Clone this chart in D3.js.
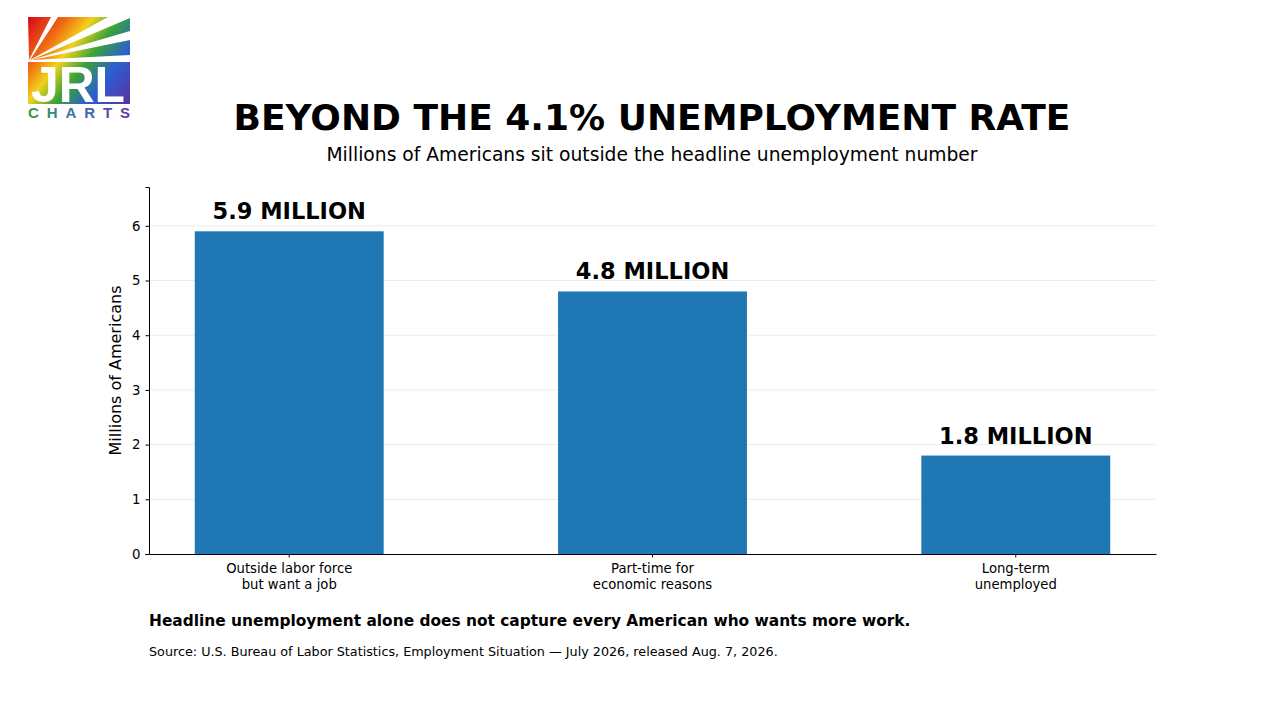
<!DOCTYPE html>
<html>
<head>
<meta charset="utf-8">
<script src="https://cdn.jsdelivr.net/npm/d3@7"></script>
<style>
  body { margin: 0; background: #fff; }
  svg { display: block; font-family: "DejaVu Sans", sans-serif; }
</style>
</head>
<body>
<svg id="chart"></svg>
<script>
// chart data
const categories = ["Outside labor force|but want a job", "Part-time for|economic reasons", "Long-term|unemployed"];
const values = [5.9, 4.8, 1.8];
const valueLabels = ["5.9 MILLION", "4.8 MILLION", "1.8 MILLION"];
const yTicks = [0, 1, 2, 3, 4, 5, 6];

const width = 1280, height = 720,
      margin = {top: 187, right: 124, bottom: 166, left: 149};

const svg = d3.select("#chart")
    .attr("width", width)
    .attr("height", height);

// logo (drawn, not an image)
const defs = svg.append("defs");
const grad = defs.append("linearGradient")
    .attr("id", "rainbow")
    .attr("gradientUnits", "userSpaceOnUse")
    .attr("x1", 28).attr("y1", 22).attr("x2", 130).attr("y2", 100);
[["0", "#d8101a"], ["0.22", "#f06a12"], ["0.38", "#f2d21c"], ["0.55", "#3aa436"],
 ["0.75", "#2a5fd0"], ["1", "#5a34a6"]].forEach(s =>
    grad.append("stop").attr("offset", s[0]).attr("stop-color", s[1]));
const grad2 = defs.append("linearGradient")
    .attr("id", "charts")
    .attr("gradientUnits", "userSpaceOnUse")
    .attr("x1", 28).attr("y1", 0).attr("x2", 130).attr("y2", 0);
grad2.append("stop").attr("offset", "0").attr("stop-color", "#3d9a3a");
grad2.append("stop").attr("offset", "0.5").attr("stop-color", "#3d6db8");
grad2.append("stop").attr("offset", "1").attr("stop-color", "#5b3aa0");

const logo = svg.append("g");
const rays = [
    [[28, 17], [51, 17], [29, 60]],
    [[58, 17], [108, 17], [30, 60]],
    [[130, 18], [130, 31], [31, 60]],
    [[130, 40], [130, 55], [32, 60]]
];
logo.selectAll("polygon")
    .data(rays)
    .enter().append("polygon")
    .attr("points", d => d.map(p => p.join(",")).join(" "))
    .attr("fill", "url(#rainbow)");
logo.append("rect")
    .attr("x", 28).attr("y", 62).attr("width", 102).attr("height", 42)
    .attr("fill", "url(#rainbow)");
logo.append("text")
    .attr("x", 31).attr("y", 102)
    .attr("textLength", 94).attr("lengthAdjust", "spacingAndGlyphs")
    .style("font-family", "Liberation Sans, Arial, sans-serif")
    .style("font-weight", "bold").style("font-size", "50px")
    .attr("fill", "#fff")
    .text("JRL");
logo.append("text")
    .attr("x", 28).attr("y", 118)
    .attr("textLength", 102).attr("lengthAdjust", "spacing")
    .style("font-family", "Liberation Sans, Arial, sans-serif")
    .style("font-weight", "bold").style("font-size", "15px")
    .attr("fill", "url(#charts)")
    .text("CHARTS");

// titles
svg.append("text")
    .attr("x", 652).attr("y", 130)
    .attr("text-anchor", "middle")
    .style("font-weight", "bold").style("font-size", "36px")
    .text("BEYOND THE 4.1% UNEMPLOYMENT RATE");
svg.append("text")
    .attr("x", 652).attr("y", 161)
    .attr("text-anchor", "middle")
    .style("font-size", "18.7px")
    .text("Millions of Americans sit outside the headline unemployment number");

// scales
const x = d3.scaleBand()
    .domain(categories)
    .range([margin.left, width - margin.right])
    .paddingInner(0.48)
    .paddingOuter(0.126);

const y = d3.scaleLinear()
    .domain([0, 6.71])
    .range([height - margin.bottom, margin.top]);

// grid
svg.append("g")
    .selectAll("line")
    .data(yTicks.filter(d => d > 0))
    .enter().append("line")
    .attr("x1", margin.left).attr("x2", width - margin.right)
    .attr("y1", d => y(d)).attr("y2", d => y(d))
    .attr("stroke", "#ececec").attr("stroke-width", 1);

// bars
svg.selectAll(".bar")
    .data(values)
    .enter().append("rect")
    .attr("class", "bar")
    .attr("x", (d, i) => x(categories[i]))
    .attr("y", d => y(d))
    .attr("width", x.bandwidth())
    .attr("height", d => y(0) - y(d))
    .attr("fill", "#1f77b4");

svg.selectAll(".val")
    .data(values)
    .enter().append("text")
    .attr("class", "val")
    .attr("x", (d, i) => x(categories[i]) + x.bandwidth() / 2)
    .attr("y", d => y(d) - 12)
    .attr("text-anchor", "middle")
    .style("font-weight", "bold").style("font-size", "22.5px")
    .text((d, i) => valueLabels[i]);

// axes
const yAxis = svg.append("g")
    .attr("transform", `translate(${margin.left},0)`)
    .call(d3.axisLeft(y).tickValues(yTicks).tickSize(3.5).tickPadding(5).tickFormat(d3.format("d")));
yAxis.select(".domain").attr("stroke", "#000").attr("stroke-width", 1);
yAxis.selectAll("text").style("font-size", "13.3px").style("font-family", "DejaVu Sans").attr("fill", "#000");

const xAxis = svg.append("g")
    .attr("transform", `translate(0,${height - margin.bottom})`)
    .call(d3.axisBottom(x).tickSize(3.5).tickSizeOuter(0).tickFormat(""));
xAxis.select(".domain").attr("stroke", "#000").attr("stroke-width", 1);
xAxis.selectAll(".tick").each(function(d) {
    const t = d3.select(this).append("text")
        .attr("fill", "#000")
        .attr("text-anchor", "middle")
        .style("font-size", "13.2px")
        .style("font-family", "DejaVu Sans");
    d.split("|").forEach((line, k) => {
        t.append("tspan").attr("x", 0).attr("y", 19 + k * 16).text(line);
    });
});

svg.append("text")
    .attr("transform", `translate(121,${(margin.top + height - margin.bottom) / 2}) rotate(-90)`)
    .attr("text-anchor", "middle")
    .style("font-size", "16px")
    .text("Millions of Americans");

// footer
svg.append("text")
    .attr("x", 149).attr("y", 626)
    .style("font-weight", "bold").style("font-size", "15.4px")
    .text("Headline unemployment alone does not capture every American who wants more work.");
svg.append("text")
    .attr("x", 149).attr("y", 656)
    .style("font-size", "12.75px")
    .text("Source: U.S. Bureau of Labor Statistics, Employment Situation \u2014 July 2026, released Aug. 7, 2026.");
</script>
</body>
</html>
